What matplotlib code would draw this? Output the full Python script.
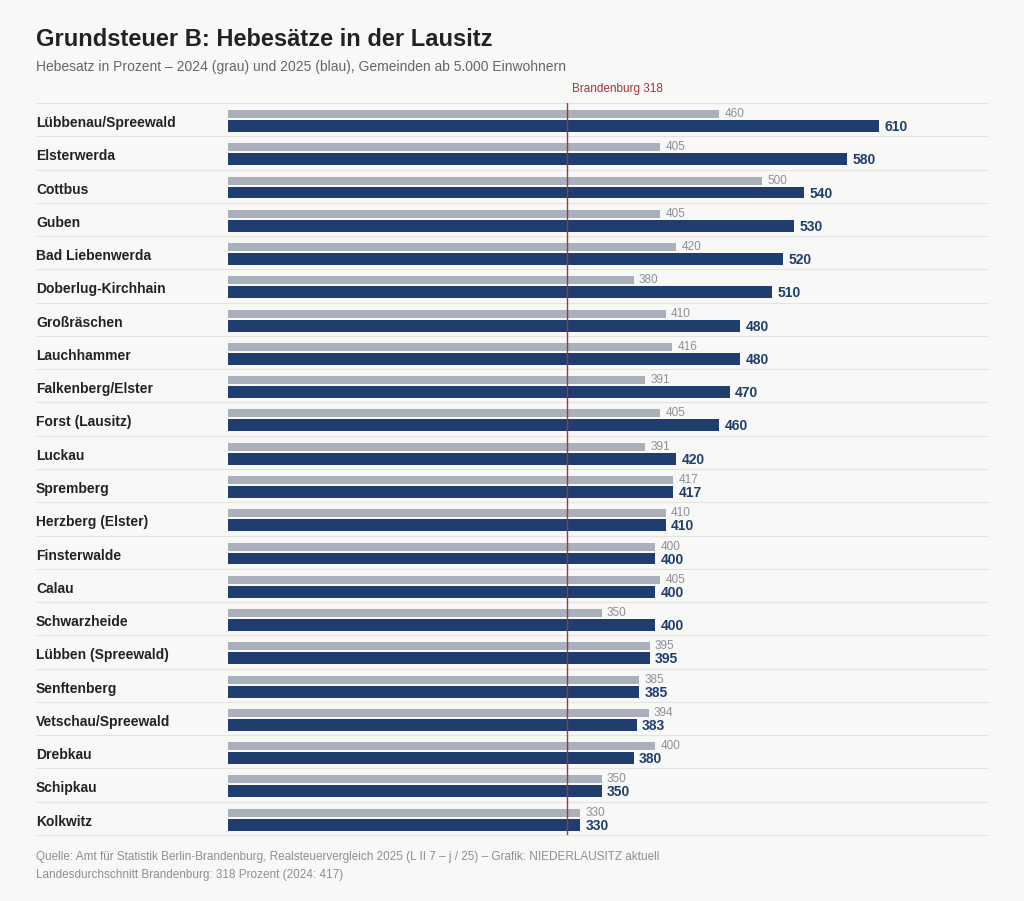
import matplotlib
matplotlib.use("Agg")
import matplotlib.pyplot as plt
from matplotlib.transforms import blended_transform_factory

plt.rcParams['font.family'] = ['Liberation Sans', 'DejaVu Sans']

cities = ["Lübbenau/Spreewald","Elsterwerda","Cottbus","Guben","Bad Liebenwerda","Doberlug-Kirchhain",
          "Großräschen","Lauchhammer","Falkenberg/Elster","Forst (Lausitz)","Luckau","Spremberg",
          "Herzberg (Elster)","Finsterwalde","Calau","Schwarzheide","Lübben (Spreewald)","Senftenberg",
          "Vetschau/Spreewald","Drebkau","Schipkau","Kolkwitz"]
v2024 = [460,405,500,405,420,380,410,416,391,405,391,417,410,400,405,350,395,385,394,400,350,330]
v2025 = [610,580,540,530,520,510,480,480,470,460,420,417,410,400,400,400,395,385,383,380,350,330]
brandenburg = 318

bg = "#f8f8f7"
fig = plt.figure(figsize=(10.24, 9.01), dpi=100, facecolor=bg)
ax = fig.add_axes([228/1024, 1-835/901, (988-228)/1024, (835-103)/901], facecolor=bg)
n = len(cities)
ax.set_xlim(0, 712)
ax.set_ylim(n, 0)
grey = "#a9b0bb"; blue = "#1f3d6e"
xmin_sep = -(228-36)/(988-228)
for i in range(n):
    ax.barh(i+0.33, v2024[i], height=0.24, color=grey, align='center')
    ax.barh(i+0.69, v2025[i], height=0.36, color=blue, align='center')
    ax.text(v2024[i]+5, i+0.33, str(v2024[i]), va='center', ha='left', fontsize=8.5, color="#8a8f98")
    ax.text(v2025[i]+5, i+0.72, str(v2025[i]), va='center', ha='left', fontsize=10, color=blue, fontweight='bold')
    ax.axhline(i, color="#e3e3e3", lw=0.8, xmin=xmin_sep, clip_on=False)
ax.axhline(n, color="#e3e3e3", lw=0.8, xmin=xmin_sep, clip_on=False)
trans = blended_transform_factory(fig.transFigure, ax.transData)
for i, c in enumerate(cities):
    fig.text(36/1024, i+0.6, c, transform=trans, fontsize=10, fontweight='bold', color="#222222", va='center')
ax.axvline(brandenburg, color="#a0353c", lw=1)
ax.text(brandenburg+4, -0.25, f"Brandenburg {brandenburg}", fontsize=8.5, color="#a0353c", va='bottom', ha='left')
for s in ax.spines.values():
    s.set_visible(False)
ax.set_xticks([]); ax.set_yticks([])

fig.text(36/1024, 1-40/901, "Grundsteuer B: Hebesätze in der Lausitz", fontsize=17, fontweight='bold', color="#222222", va='center')
fig.text(36/1024, 1-67/901, "Hebesatz in Prozent – 2024 (grau) und 2025 (blau), Gemeinden ab 5.000 Einwohnern", fontsize=10, color="#666666", va='center')
fig.text(36/1024, 1-857/901, "Quelle: Amt für Statistik Berlin-Brandenburg, Realsteuervergleich 2025 (L II 7 – j / 25) – Grafik: NIEDERLAUSITZ aktuell", fontsize=8.5, color="#8a8f98", va='center')
fig.text(36/1024, 1-875/901, "Landesdurchschnitt Brandenburg: 318 Prozent (2024: 417)", fontsize=8.5, color="#8a8f98", va='center')
fig.savefig("out.png", dpi=100, facecolor=bg)
